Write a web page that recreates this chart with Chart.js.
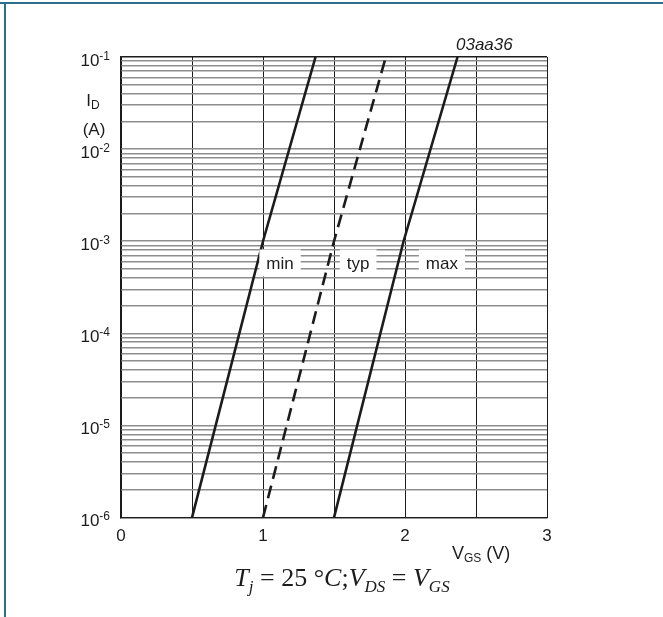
<!DOCTYPE html>
<html>
<head>
<meta charset="utf-8">
<script src="https://cdn.jsdelivr.net/npm/chart.js@4.4.1/dist/chart.umd.min.js"></script>
<style>
  html, body { margin: 0; padding: 0; background: #fff; }
  #frame { position: relative; width: 663px; height: 617px; overflow: hidden; }
  #frame::before { content: ""; position: absolute; left: 0; top: 2px; width: 663px; height: 2px; background: #2b6f8c; }
  #frame::after { content: ""; position: absolute; left: 4px; top: 2px; width: 2px; height: 615px; background: #2b6f8c; }
  canvas { position: absolute; left: 0; top: 0; }
</style>
</head>
<body>
<div id="frame"><canvas id="chart" width="663" height="617"></canvas></div>
<script>
// axis ticks
const vgsTicks = [0, 0.5, 1, 1.5, 2, 2.5, 3];
const vgsTickLabels = ["0", "", "1", "", "2", "", "3"];
const idExponents = [-6, -5, -4, -3, -2, -1];
const idMantissas = [1, 2, 3, 4, 5, 6, 7, 8, 9];

// transfer curves
const vgsMin = [0.5, 1.0, 1.37];
const idMin = [1e-6, 1e-3, 1e-1];
const vgsTyp = [1.0, 1.5, 1.865];
const idTyp = [1e-6, 1e-3, 1e-1];
const vgsMax = [1.5, 1.99, 2.37];
const idMax = [1e-6, 1e-3, 1e-1];

// curve labels (in data coordinates)
const curveNames = ["min", "typ", "max"];
const curveLabelVgs = [1.12, 1.67, 2.26];
const curveLabelId = 5.8e-4;

const SANS = "'Liberation Sans', Arial, sans-serif";
const SERIF = "'Liberation Serif', 'Times New Roman', serif";
const INK = "#1c1c1c";

function toPoints(xs, ys) {
  return xs.map((x, i) => ({ x: x, y: ys[i] }));
}

function idTickValues() {
  const vals = [];
  idExponents.slice(0, -1).forEach(e => {
    idMantissas.forEach(m => vals.push(m * Math.pow(10, e)));
  });
  vals.push(Math.pow(10, idExponents[idExponents.length - 1]));
  return vals;
}

// draws text pieces side by side, each with its own font and vertical shift
function drawPieces(ctx, pieces, x, baseline, align) {
  let total = 0;
  pieces.forEach(p => { ctx.font = p.font; p.w = ctx.measureText(p.text).width; total += p.w; });
  let cx = align === "center" ? x - total / 2 : align === "right" ? x - total : x;
  ctx.textAlign = "left";
  ctx.textBaseline = "alphabetic";
  pieces.forEach(p => {
    ctx.font = p.font;
    ctx.fillText(p.text, cx, baseline + (p.dy || 0));
    cx += p.w;
  });
}

const textPlugin = {
  id: "textPlugin",
  afterDraw(chart) {
    const ctx = chart.ctx;
    const xs = chart.scales.x;
    const ys = chart.scales.y;
    ctx.save();
    ctx.fillStyle = INK;

    // y tick labels 10^n
    idExponents.forEach(e => {
      const py = ys.getPixelForValue(Math.pow(10, e));
      drawPieces(ctx, [
        { text: "10", font: "17px " + SANS },
        { text: String(e), font: "12px " + SANS, dy: -6 }
      ], 110, py + 8.5, "right");
    });

    // y axis title
    drawPieces(ctx, [
      { text: "I", font: "17px " + SANS },
      { text: "D", font: "12px " + SANS, dy: 3 }
    ], 93, 106, "center");
    ctx.font = "17px " + SANS;
    ctx.textAlign = "center";
    ctx.textBaseline = "middle";
    ctx.fillText("(A)", 94, 130);

    // x axis title
    drawPieces(ctx, [
      { text: "V", font: "18px " + SANS },
      { text: "GS", font: "12px " + SANS, dy: 3 },
      { text: " (V)", font: "18px " + SANS }
    ], 452, 559, "left");

    // figure code
    ctx.font = "italic 17px " + SANS;
    ctx.textAlign = "left";
    ctx.textBaseline = "middle";
    ctx.fillText("03aa36", 456, 45);

    // curve labels in white boxes
    curveNames.forEach((name, i) => {
      const px = xs.getPixelForValue(curveLabelVgs[i]);
      const py = ys.getPixelForValue(curveLabelId);
      ctx.font = "17px " + SANS;
      const w = ctx.measureText(name).width + 14;
      ctx.fillStyle = "#fff";
      ctx.fillRect(px - w / 2, py - 13.5, w, 27);
      ctx.fillStyle = INK;
      ctx.textAlign = "center";
      ctx.textBaseline = "middle";
      ctx.fillText(name, px, py + 1);
    });

    // conditions caption
    drawPieces(ctx, [
      { text: "T", font: "italic 26px " + SERIF },
      { text: "j", font: "italic 17px " + SERIF, dy: 6 },
      { text: " = 25 \u00B0", font: "26px " + SERIF },
      { text: "C", font: "italic 26px " + SERIF },
      { text: ";", font: "26px " + SERIF },
      { text: "V", font: "italic 26px " + SERIF },
      { text: "DS", font: "italic 17px " + SERIF, dy: 6 },
      { text: " = ", font: "26px " + SERIF },
      { text: "V", font: "italic 26px " + SERIF },
      { text: "GS", font: "italic 17px " + SERIF, dy: 6 }
    ], 342, 586, "center");

    ctx.restore();
  }
};

function curve(label, xs, ys, dash) {
  return {
    label: label,
    data: toPoints(xs, ys),
    showLine: true,
    borderColor: INK,
    borderWidth: 2.6,
    borderDash: dash,
    pointRadius: 0,
    fill: false
  };
}

new Chart(document.getElementById("chart"), {
  type: "scatter",
  data: {
    datasets: [
      curve("min", vgsMin, idMin, []),
      curve("typ", vgsTyp, idTyp, [13, 7]),
      curve("max", vgsMax, idMax, [])
    ]
  },
  options: {
    responsive: false,
    animation: false,
    layout: { padding: { left: 121, top: 57, right: 116, bottom: 61 } },
    plugins: {
      legend: { display: false },
      tooltip: { enabled: false }
    },
    scales: {
      x: {
        type: "linear",
        min: 0,
        max: 3,
        afterBuildTicks: scale => { scale.ticks = vgsTicks.map(v => ({ value: v })); },
        grid: { color: INK, lineWidth: 1, drawTicks: false },
        border: { color: INK, width: 1.2 },
        ticks: {
          autoSkip: false,
          maxRotation: 0,
          padding: 9,
          color: INK,
          font: { family: SANS, size: 17 },
          callback: (v, i) => vgsTickLabels[i]
        }
      },
      y: {
        type: "logarithmic",
        min: 1e-6,
        max: 1e-1,
        afterBuildTicks: scale => { scale.ticks = idTickValues().map(v => ({ value: v })); },
        grid: {
          drawTicks: false,
          lineWidth: 1.6,
          color: c => Math.abs(Math.log10(c.tick.value) + 1) < 1e-9 ? INK : "#8e8e8e"
        },
        border: { color: INK, width: 1.2 },
        ticks: { display: false }
      }
    }
  },
  plugins: [textPlugin]
});
</script>
</body>
</html>
